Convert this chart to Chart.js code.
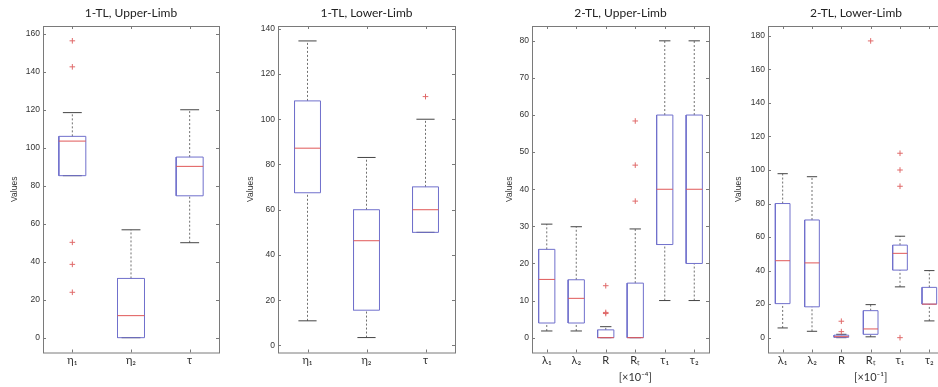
<!DOCTYPE html>
<html>
<head>
<meta charset="utf-8">
<script src="https://cdn.jsdelivr.net/npm/chart.js@4.4.0/dist/chart.umd.min.js"></script>
<style>
html, body { margin: 0; padding: 0; background: #fff; overflow: hidden; width: 938px; height: 387px; }
canvas { position: absolute; top: 0; }
</style>
</head>
<body>
<canvas id="p1"></canvas>
<canvas id="p2"></canvas>
<canvas id="p3"></canvas>
<canvas id="p4"></canvas>
<script>
// 1-TL, Upper-Limb
const ul1Labels = ['η₁', 'η₂', 'τ'];
const ul1Min = [85.3, 0, 50];
const ul1Q1 = [85.3, 0, 74.7];
const ul1Med = [103.5, 11.6, 90.2];
const ul1Q3 = [106, 31.2, 95.1];
const ul1Max = [118.5, 56.8, 120];
const ul1Out = [[156.3, 142.6, 50.2, 38.6, 23.9], [], []];
const ul1Ticks = [0, 20, 40, 60, 80, 100, 120, 140, 160];

// 1-TL, Lower-Limb
const ll1Labels = ['η₁', 'η₂', 'τ'];
const ll1Min = [10.9, 3.5, 50];
const ll1Q1 = [67.5, 15.6, 50];
const ll1Med = [87.2, 46.3, 60];
const ll1Q3 = [108.1, 60, 70.1];
const ll1Max = [134.6, 83.1, 100];
const ll1Out = [[], [], [110]];
const ll1Ticks = [0, 20, 40, 60, 80, 100, 120, 140];

// 2-TL, Upper-Limb
const ul2Labels = ['λ₁', 'λ₂', 'R', ['Rₜ', '[×10⁻⁴]'], 'τ₁', 'τ₂'];
const ul2Min = [1.8, 1.8, 0, 0, 10, 10];
const ul2Q1 = [3.95, 3.95, 0, 0, 25.1, 20];
const ul2Med = [15.7, 10.6, 0, 0, 40, 40];
const ul2Q3 = [23.8, 15.6, 2.1, 14.7, 60, 60];
const ul2Max = [30.6, 29.9, 2.96, 29.3, 80, 80];
const ul2Out = [[], [], [14, 6.5, 6.8], [58.4, 46.5, 36.8], [], []];
const ul2Ticks = [0, 10, 20, 30, 40, 50, 60, 70, 80];

// 2-TL, Lower-Limb
const ll2Labels = ['λ₁', 'λ₂', 'R', ['Rₜ', '[×10⁻¹]'], 'τ₁', 'τ₂'];
const ll2Min = [5.8, 3.8, 0, 0.5, 30.3, 10];
const ll2Q1 = [20.3, 18.4, 0.2, 2, 40.3, 20];
const ll2Med = [45.9, 44.6, 0.6, 5.2, 50.3, 20];
const ll2Q3 = [80, 70.2, 1.5, 16.1, 55.2, 30];
const ll2Max = [97.8, 96, 2, 19.7, 60.5, 40];
const ll2Out = [[], [], [9.8, 3.6], [177], [110, 100, 90.3, 0], []];
const ll2Ticks = [0, 20, 40, 60, 80, 100, 120, 140, 160, 180];

// matlab-ish box: frame plus inward ticks on all four sides
const frame = {
  id: 'frame',
  beforeDatasetsDraw(chart) {
    const { ctx, chartArea: a, scales: { x, y } } = chart;
    ctx.save();
    ctx.strokeStyle = '#7a7a7a';
    ctx.lineWidth = 1;
    ctx.strokeRect(a.left + 0.5, a.top + 0.5, a.width, a.height);
    ctx.beginPath();
    y.ticks.forEach(t => {
      const py = Math.round(y.getPixelForValue(t.value)) + 0.5;
      ctx.moveTo(a.left, py); ctx.lineTo(a.left + 3, py);
      ctx.moveTo(a.right - 3, py); ctx.lineTo(a.right, py);
    });
    x.ticks.forEach(t => {
      const px = Math.round(x.getPixelForValue(t.value)) + 0.5;
      ctx.moveTo(px, a.bottom); ctx.lineTo(px, a.bottom - 3);
      ctx.moveTo(px, a.top); ctx.lineTo(px, a.top + 3);
    });
    ctx.stroke();
    ctx.restore();
  }
};

function boxplot(id, title, labels, min, q1, med, q3, max, out, ticks, p) {
  const el = document.getElementById(id);
  el.width = p.width;
  el.height = 387;
  el.style.left = p.left + 'px';

  const box = [], mid = [], whisk = [], caps = [], pts = [];
  labels.forEach((l, i) => {
    const x = i + 1, h = p.boxW / 2, c = p.boxW * 0.35;
    box.push({ x: x - h, y: q1[i] }, { x: x + h, y: q1[i] }, { x: x + h, y: q3[i] },
      { x: x - h, y: q3[i] }, { x: x - h, y: q1[i] }, { x: x, y: null });
    mid.push({ x: x - h, y: med[i] }, { x: x + h, y: med[i] }, { x: x, y: null });
    whisk.push({ x: x, y: q3[i] }, { x: x, y: max[i] }, { x: x, y: null },
      { x: x, y: min[i] }, { x: x, y: q1[i] }, { x: x, y: null });
    caps.push({ x: x - c, y: max[i] }, { x: x + c, y: max[i] }, { x: x, y: null },
      { x: x - c, y: min[i] }, { x: x + c, y: min[i] }, { x: x, y: null });
    out[i].forEach(v => pts.push({ x: x, y: v }));
  });

  const line = { showLine: true, spanGaps: false, pointRadius: 0, borderWidth: 1, tension: 0 };

  return new Chart(el, {
    type: 'scatter',
    data: {
      datasets: [
        { data: pts, showLine: false, pointStyle: 'cross', pointRadius: 2.8, borderColor: '#e06a6a', borderWidth: 1 },
        Object.assign({ data: mid, borderColor: '#e05858' }, line),
        Object.assign({ data: box, borderColor: '#7070cc' }, line),
        Object.assign({ data: caps, borderColor: '#444' }, line),
        Object.assign({ data: whisk, borderColor: '#707070', borderDash: [2, 2] }, line)
      ]
    },
    options: {
      responsive: false,
      animation: false,
      devicePixelRatio: 1,
      layout: { padding: { left: 0, right: p.padR, top: 0.4, bottom: 0 } },
      plugins: {
        legend: { display: false },
        tooltip: { enabled: false },
        title: {
          display: true, text: title, color: '#222', fullSize: false,
          font: { family: 'Lato', size: 12, weight: 'normal', lineHeight: 1.2 },
          padding: { top: 5.5, bottom: 5.7 }
        }
      },
      scales: {
        x: {
          type: 'linear', min: 0.5, max: labels.length + 0.5,
          afterBuildTicks: s => { s.ticks = labels.map((l, i) => ({ value: i + 1 })); },
          afterFit: s => { s.height = 34.5; },
          grid: { display: false, drawTicks: false },
          border: { display: false },
          ticks: {
            autoSkip: false, maxRotation: 0, padding: 0, color: '#333',
            font: { family: 'Lato', size: 11, lineHeight: 1.5 },
            callback: v => labels[v - 1]
          }
        },
        y: {
          type: 'linear', min: p.yMin, max: p.yMax,
          afterBuildTicks: s => { s.ticks = ticks.map(v => ({ value: v })); },
          afterFit: s => { s.width = p.axisW; },
          grid: { display: false, drawTicks: false },
          border: { display: false },
          ticks: { padding: 3, color: '#333', font: { family: 'Liberation Sans', size: 8.5 } },
          title: {
            display: true, text: 'Values', color: '#333',
            font: { family: 'Liberation Sans', size: 8.5 },
            padding: { top: 10, bottom: 0 }
          }
        }
      }
    },
    plugins: [frame]
  });
}

boxplot('p1', '1-TL, Upper-Limb', ul1Labels, ul1Min, ul1Q1, ul1Med, ul1Q3, ul1Max, ul1Out, ul1Ticks,
  { left: 0, width: 224, axisW: 43, padR: 4, yMin: -7.8, yMax: 164.1, boxW: 0.46 });
boxplot('p2', '1-TL, Lower-Limb', ll1Labels, ll1Min, ll1Q1, ll1Med, ll1Q3, ll1Max, ll1Out, ll1Ticks,
  { left: 236, width: 224, axisW: 42, padR: 4, yMin: -3.1, yMax: 141.2, boxW: 0.44 });
boxplot('p3', '2-TL, Upper-Limb', ul2Labels, ul2Min, ul2Q1, ul2Med, ul2Q3, ul2Max, ul2Out, ul2Ticks,
  { left: 495, width: 219, axisW: 37, padR: 4, yMin: -4, yMax: 84, boxW: 0.55 });
boxplot('p4', '2-TL, Lower-Limb', ll2Labels, ll2Min, ll2Q1, ll2Med, ll2Q3, ll2Max, ll2Out, ll2Ticks,
  { left: 724, width: 225, axisW: 44, padR: 4, yMin: -8.85, yMax: 185.9, boxW: 0.5 });
</script>
</body>
</html>
